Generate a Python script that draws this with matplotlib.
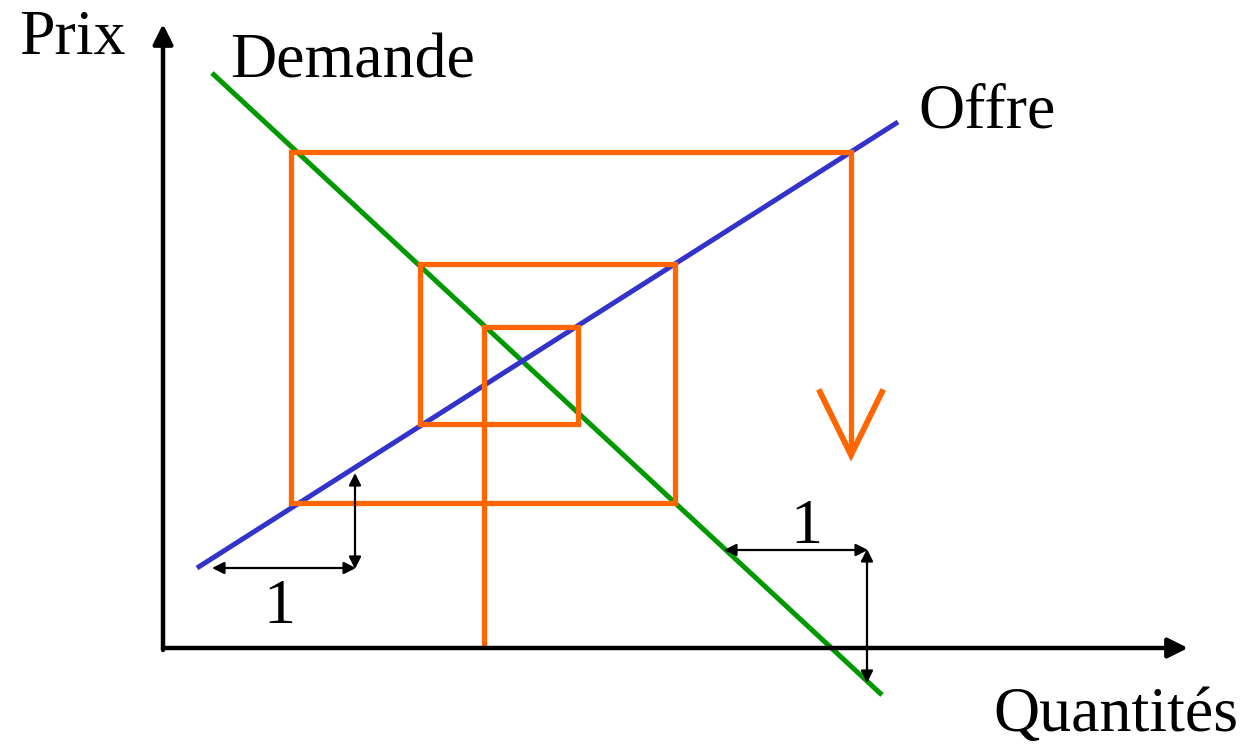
import numpy as np
import matplotlib.pyplot as plt

# coordonnées (pixels, y vers le bas)
demande_x = [212, 882]
demande_y = [73, 695]
offre_x = [197, 898]
offre_y = [568, 122]

# toile d'araignée (cobweb)
toile_x = [484, 484, 578, 578, 420, 420, 675, 675, 291, 291, 851, 851]
toile_y = [648, 327, 327, 424, 424, 264, 264, 503, 503, 152, 152, 455]
fleche_x = [820, 851, 882]
fleche_y = [392, 455, 392]

plt.rcParams['font.family'] = ['Liberation Serif', 'DejaVu Serif']

fig = plt.figure(figsize=(12.43, 7.45), dpi=100)
ax = fig.add_axes([0, 0, 1, 1])
ax.set_xlim(0, 1243)
ax.set_ylim(745, 0)
ax.axis('off')

# axes
ax.annotate('', xy=(163, 24), xytext=(163, 650),
            arrowprops=dict(arrowstyle='-|>', lw=3.2, color='black',
                            mutation_scale=30, shrinkA=0, shrinkB=0))
ax.annotate('', xy=(1188, 648), xytext=(163, 648),
            arrowprops=dict(arrowstyle='-|>', lw=3.2, color='black',
                            mutation_scale=30, shrinkA=0, shrinkB=0))

ax.plot(demande_x, demande_y, color='#009900', lw=3.6, solid_capstyle='butt')
ax.plot(offre_x, offre_y, color='#3333CC', lw=3.6, solid_capstyle='butt')
ax.plot(toile_x, toile_y, color='#FF6600', lw=3.8, solid_joinstyle='miter',
        solid_capstyle='butt')
ax.plot(fleche_x, fleche_y, color='#FF6600', lw=4.2, solid_joinstyle='miter')

# petites flèches "1"
fl = dict(arrowstyle='<|-|>', lw=1.6, color='black', mutation_scale=18,
          shrinkA=0, shrinkB=0)
ax.annotate('', xy=(212, 568), xytext=(356, 568), arrowprops=fl)
ax.annotate('', xy=(355, 473), xytext=(355, 569), arrowprops=fl)
ax.annotate('', xy=(724, 550), xytext=(868, 550), arrowprops=fl)
ax.annotate('', xy=(867, 549), xytext=(867, 683), arrowprops=fl)

fs = 46
ax.text(19, 54, 'Prix', fontsize=fs, ha='left', va='baseline')
ax.text(230, 78, 'Demande', fontsize=fs, ha='left', va='baseline')
ax.text(918, 128, 'Offre', fontsize=fs, ha='left', va='baseline')
ax.text(1238, 731, 'Quantités', fontsize=fs, ha='right', va='baseline')
ax.text(279, 623, '1', fontsize=fs, ha='center', va='baseline')
ax.text(806, 543, '1', fontsize=fs, ha='center', va='baseline')

fig.savefig('out.png', dpi=100)
